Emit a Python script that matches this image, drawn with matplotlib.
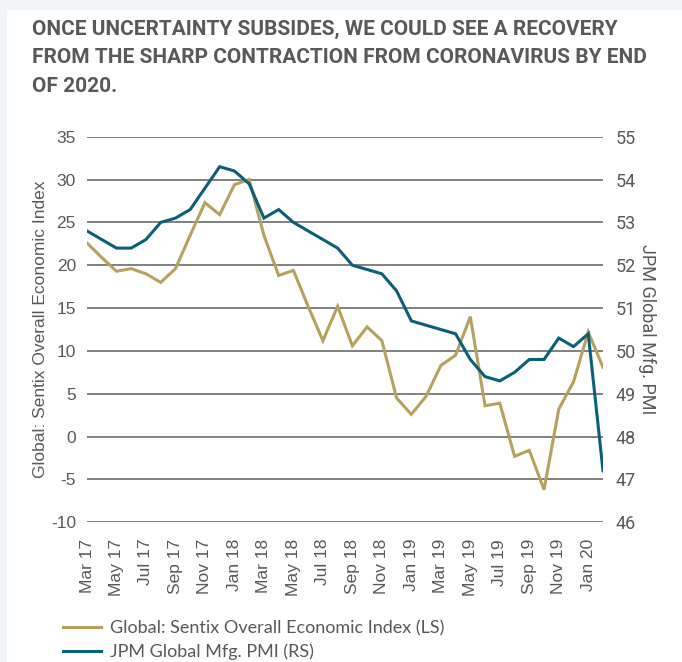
import matplotlib
matplotlib.use("Agg")
import matplotlib.pyplot as plt
from matplotlib.lines import Line2D
from matplotlib.patches import Rectangle

plt.rcParams["axes.unicode_minus"] = False

months = ["Mar 17", "Apr 17", "May 17", "Jun 17", "Jul 17", "Aug 17", "Sep 17", "Oct 17",
          "Nov 17", "Dec 17", "Jan 18", "Feb 18", "Mar 18", "Apr 18", "May 18", "Jun 18",
          "Jul 18", "Aug 18", "Sep 18", "Oct 18", "Nov 18", "Dec 18", "Jan 19", "Feb 19",
          "Mar 19", "Apr 19", "May 19", "Jun 19", "Jul 19", "Aug 19", "Sep 19", "Oct 19",
          "Nov 19", "Dec 19", "Jan 20", "Feb 20"]
sentix = [22.6, 20.9, 19.3, 19.6, 19.0, 18.0, 19.6, 23.5, 27.3, 25.9, 29.4, 30.0,
          23.5, 18.8, 19.4, 15.2, 11.2, 15.2, 10.6, 12.8, 11.2, 4.5, 2.6, 4.7,
          8.3, 9.5, 14.0, 3.6, 3.9, -2.3, -1.6, -6.2, 3.2, 6.4, 12.2, 8.1]
pmi = [52.8, 52.6, 52.4, 52.4, 52.6, 53.0, 53.1, 53.3, 53.8, 54.3, 54.2, 53.9,
       53.1, 53.3, 53.0, 52.8, 52.6, 52.4, 52.0, 51.9, 51.8, 51.4, 50.7, 50.6,
       50.5, 50.4, 49.8, 49.4, 49.3, 49.5, 49.8, 49.8, 50.3, 50.1, 50.4, 47.2]
left_ticks = [-10, -5, 0, 5, 10, 15, 20, 25, 30, 35]
right_ticks = [46, 47, 48, 49, 50, 51, 52, 53, 54, 55]
title_lines = ["ONCE UNCERTAINTY SUBSIDES, WE COULD SEE A RECOVERY",
               "FROM THE SHARP CONTRACTION FROM CORONAVIRUS BY END",
               "OF 2020."]
sentix_label = "Global: Sentix Overall Economic Index (LS)"
pmi_label = "JPM Global Mfg. PMI (RS)"

GOLD = "#B6A15E"
BLUE = "#0B6079"
TXT = "#595959"
GRID = "#6b6b6b"

W, H = 682, 662
fig = plt.figure(figsize=(W / 100, H / 100), dpi=100)
fig.patch.set_facecolor("#F1F5F8")
fig.add_artist(Rectangle((7 / W, 0), 1 - 7 / W, 1 - 10 / H, transform=fig.transFigure,
                         facecolor="white", edgecolor="none", zorder=0))

ax = fig.add_axes([87 / W, 1 - 522.3 / H, (603 - 87) / W, (522.3 - 136.7) / H])
ax.set_facecolor("none")
ax2 = ax.twinx()

x = list(range(len(months)))
ax.plot(x, sentix, color=GOLD, lw=2.2, zorder=3, solid_joinstyle="miter")
ax2.plot(x, pmi, color=BLUE, lw=2.2, zorder=3, solid_joinstyle="miter")

ax.set_xlim(0, len(months) - 1)
ax.set_ylim(-10, 35)
ax2.set_ylim(46, 55)
ax.set_yticks(left_ticks)
ax2.set_yticks(right_ticks)
ax.set_xticks(x[::2])
ax.set_xticklabels(months[::2], rotation=90, fontsize=12.5, color=TXT, family="Liberation Sans")
for a in (ax, ax2):
    for s in a.spines.values():
        s.set_visible(False)
ax.grid(axis="y", color=GRID, lw=1.2)
ax.set_axisbelow(True)
ax.tick_params(axis="x", length=0, pad=12)
ax.tick_params(axis="y", length=0, pad=8, labelsize=12.5, labelcolor=TXT)
ax2.tick_params(axis="y", length=0, pad=9, labelsize=13, labelcolor=TXT)
for t in ax.get_yticklabels():
    t.set_family("Liberation Sans")
for t in ax2.get_yticklabels():
    t.set_family("Roboto")

ax.set_ylabel("Global: Sentix Overall Economic Index", fontsize=12.5, color=TXT,
              family="Liberation Sans", labelpad=2)
ax2.set_ylabel("JPM Global Mfg. PMI", fontsize=13, color=TXT, rotation=270,
               family="Roboto", labelpad=15)

# title: condensed look, fitted to the reference width
fig.canvas.draw()
renderer = fig.canvas.get_renderer()
tsize = 15
probe = fig.text(0, 0, title_lines[1], fontsize=tsize, fontweight="bold", family="Roboto")
wpx = probe.get_window_extent(renderer).width
probe.remove()
tsize = tsize * 618 / wpx
for i, line in enumerate(title_lines):
    fig.text(32 / W, 1 - (29 + 28.5 * i) / H, line, fontsize=tsize, fontweight="bold",
             color=TXT, family="Roboto", va="center", ha="left")

handles = [Line2D([], [], color=GOLD, lw=2.2), Line2D([], [], color=BLUE, lw=2.2)]
leg = fig.legend(handles, [sentix_label, pmi_label], loc="upper left",
                 bbox_to_anchor=(56 / W, 1 - 613 / H), frameon=False,
                 prop={"family": "Lato", "size": 13}, handlelength=2.1,
                 handletextpad=0.5, labelspacing=0.4, borderaxespad=0)
for t in leg.get_texts():
    t.set_color(TXT)

fig.savefig("out.png", dpi=100, facecolor=fig.get_facecolor())
